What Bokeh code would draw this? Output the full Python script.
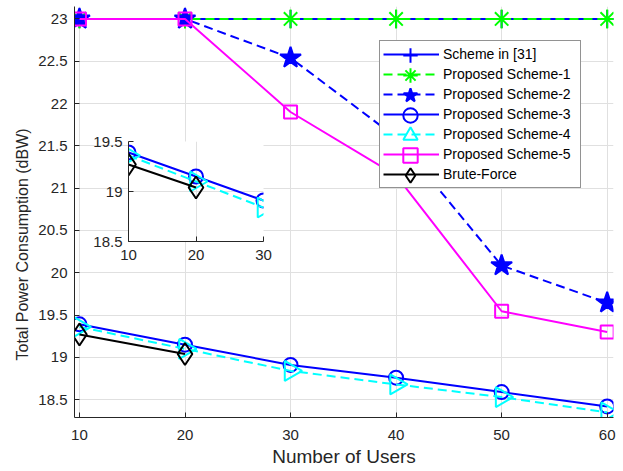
import math
from bokeh.plotting import figure
from bokeh.models import Range1d, Legend, LegendItem, GridBox, FixedTicker, Title
from bokeh.embed import file_html
from bokeh.resources import INLINE

# ---------------- data ----------------
users = [10, 20, 30, 40, 50, 60]
scheme_31 = [23.0, 23.0, 23.0, 23.0, 23.0, 23.0]
scheme_1 = [23.0, 23.0, 23.0, 23.0, 23.0, 23.0]
scheme_2 = [23.0, 23.0, 22.54, 21.60, 20.085, 19.645]
scheme_3 = [19.39, 19.15, 18.91, 18.76, 18.59, 18.42]
scheme_4 = [19.36, 19.10, 18.84, 18.68, 18.53, 18.35]
scheme_5 = [23.0, 23.0, 21.90, 21.15, 19.545, 19.30]
bf_users = [10, 20]
brute_force = [19.27, 19.04]

names = ["Scheme in [31]", "Proposed Scheme-1", "Proposed Scheme-2",
         "Proposed Scheme-3", "Proposed Scheme-4", "Proposed Scheme-5",
         "Brute-Force"]
x_label = "Number of Users"
y_label = "Total Power Consumption (dBW)"
x_ticks = [10, 20, 30, 40, 50, 60]
y_ticks = [18.5, 19, 19.5, 20, 20.5, 21, 21.5, 22, 22.5, 23]
inset_x_ticks = [10, 20, 30]
inset_y_ticks = [18.5, 19, 19.5]

# ---------------- styles ----------------
FONT = "Liberation Sans"
TXT = "#262626"
GRID = "#e0e0e0"
DASH = "9 5"
styles = [
    dict(color="#0000ff", dash="solid", marker="cross", size=18, fill=None, angle=0.0),
    dict(color="#00ff00", dash=DASH, marker="asterisk", size=19, fill=None, angle=0.0),
    dict(color="#0000ff", dash=DASH, marker="star", size=22, fill="#0000ff", angle=0.0),
    dict(color="#0000ff", dash="solid", marker="circle", size=14, fill=None, angle=0.0),
    dict(color="#00ffff", dash=DASH, marker="triangle", size=20, fill=None, angle=-math.pi / 2),
    dict(color="#ff00ff", dash="solid", marker="square", size=13, fill=None, angle=0.0),
    dict(color="#000000", dash="solid", marker="diamond", size=22, fill=None, angle=0.0),
]


def style_fig(p, xt, yt):
    p.outline_line_color = None
    p.xaxis.ticker = FixedTicker(ticks=xt)
    p.yaxis.ticker = FixedTicker(ticks=yt)
    p.xgrid.ticker = FixedTicker(ticks=xt)
    p.ygrid.ticker = FixedTicker(ticks=yt)
    for g in (p.xgrid, p.ygrid):
        g.grid_line_color = GRID
        g.grid_line_width = 1
    for ax in (p.xaxis, p.yaxis):
        ax.axis_line_color = TXT
        ax.axis_line_width = 1
        ax.major_tick_line_color = TXT
        ax.major_tick_in = 5
        ax.major_tick_out = 0
        ax.minor_tick_line_color = None
        ax.major_label_text_font = FONT
        ax.major_label_text_font_size = "15px"
        ax.major_label_text_color = TXT
        ax.axis_label_text_font = FONT
        ax.axis_label_text_font_style = "normal"
        ax.axis_label_text_color = TXT


def draw(p, xs, ys, st):
    lr = p.line(xs, ys, line_color=st["color"], line_width=2, line_dash=st["dash"])
    sr = p.scatter(xs, ys, marker=st["marker"], size=st["size"], angle=st["angle"],
                   line_color=st["color"], line_width=2,
                   fill_color=st["fill"] if st["fill"] else st["color"],
                   fill_alpha=1 if st["fill"] else 0)
    return lr, sr


# ---------------- main figure ----------------
main = figure(width=623, height=471, output_backend="svg", toolbar_location=None,
              x_range=Range1d(9.53, 60.6), y_range=Range1d(18.289, 23.147),
              min_border_left=74, min_border_right=10, min_border_top=6,
              min_border_bottom=54)
main.background_fill_color = "white"
main.border_fill_color = "white"
style_fig(main, x_ticks, y_ticks)
main.yaxis.major_label_standoff = 7
main.xaxis.major_label_standoff = 12
main.xaxis.axis_label = x_label
main.xaxis.axis_label_text_font_size = "19px"
main.xaxis.axis_label_standoff = 3
# y label as a left-side title so it can sit a little below the axis centre
main.add_layout(Title(text=y_label, align="left", offset=57, standoff=10,
                      text_font=FONT, text_font_size="16px",
                      text_font_style="normal", text_color=TXT), "left")

series_x = [users, users, users, users, users, users, bf_users]
series_y = [scheme_31, scheme_1, scheme_2, scheme_3, scheme_4, scheme_5, brute_force]

items_a, marker_rs = [], []
for name, xs, ys, st in zip(names, series_x, series_y, styles):
    lr, sr = draw(main, xs, ys, st)
    items_a.append(LegendItem(label=name, renderers=[lr]))
    marker_rs.append(sr)

leg_a = Legend(items=items_a, location=(305, 229), margin=0, padding=3,
               spacing=0, glyph_width=56, glyph_height=20, label_height=20,
               label_standoff=4, label_width=134,
               label_text_font=FONT, label_text_font_size="14px",
               label_text_color="#000000",
               border_line_color=TXT, border_line_width=1,
               background_fill_color="white", background_fill_alpha=1)
main.add_layout(leg_a)
# one marker-only legend per row, so the legend markers can be drawn larger
for k, sr in enumerate(marker_rs):
    leg_k = Legend(items=[LegendItem(label=" ", renderers=[sr])],
                   location=(308, 344 - 20 * k), margin=0, padding=0,
                   glyph_width=56, glyph_height=36, label_height=20,
                   label_text_alpha=0, label_text_font_size="6px",
                   border_line_color=None, background_fill_alpha=0)
    main.add_layout(leg_k)

# ---------------- inset ----------------
inset = figure(width=187, height=140, output_backend="svg", toolbar_location=None,
               x_range=Range1d(10, 30), y_range=Range1d(18.5, 19.5),
               min_border_left=40, min_border_right=12, min_border_top=10,
               min_border_bottom=30)
inset.background_fill_color = "white"
inset.border_fill_alpha = 0
style_fig(inset, inset_x_ticks, inset_y_ticks)
inset.yaxis.major_label_standoff = 6
inset.xaxis.major_label_standoff = 8

n_in = len(inset_x_ticks)
for xs, ys, st in [(users[:n_in], scheme_3[:n_in], styles[3]),
                   (users[:n_in], scheme_4[:n_in], styles[4]),
                   (bf_users, brute_force, styles[6])]:
    draw(inset, xs, ys, st)

layout = GridBox(children=[(main, 0, 0, 3, 3), (inset, 1, 1, 1, 1)],
                 rows=["131px", "140px", "200px"], cols=["88px", "187px", "348px"])

open("out.html", "w").write(file_html(layout, INLINE))
